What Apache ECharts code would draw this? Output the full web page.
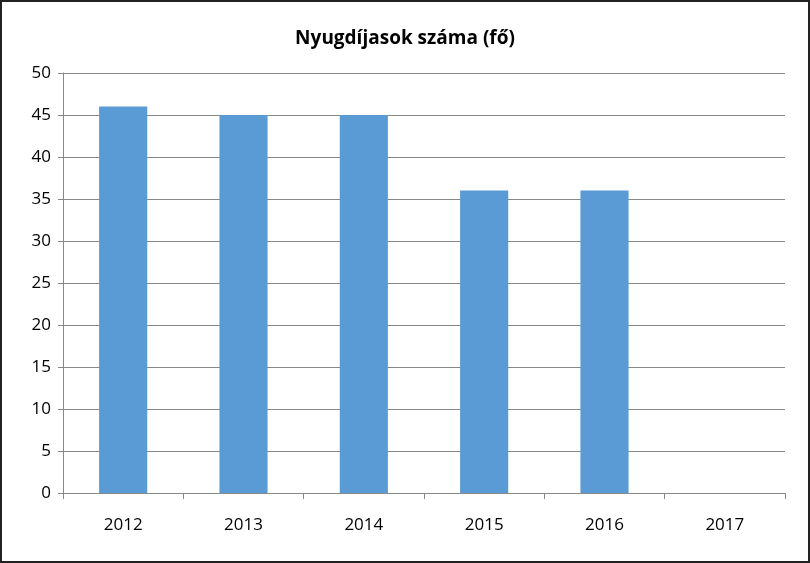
<!DOCTYPE html>
<html><head><meta charset="utf-8">
<script src="https://cdn.jsdelivr.net/npm/echarts@6/dist/echarts.min.js"></script>
<style>
html,body{margin:0;padding:0;background:#fff;}
#wrap{position:absolute;left:0;top:0;width:806px;height:559px;border:2px solid #222;}
#c{width:806px;height:559px;}
</style></head><body>
<div id="wrap"><div id="c"></div></div>
<script>
const categories = ['2012','2013','2014','2015','2016','2017'];
const values = [46, 45, 45, 36, 36, null];
const yTicks = {min: 0, max: 50, interval: 5};
const titleText = 'Nyugdíjasok száma (fő)';

const chart = echarts.init(document.getElementById('c'));
chart.setOption({
  animation: false,
  title: {text: titleText, left: 'center', top: 22,
    textStyle: {fontFamily: 'Open Sans', fontSize: 19, fontWeight: 'bold', color: '#000'}},
  grid: {left: 61, right: 23, top: 71, bottom: 68},
  xAxis: {type: 'category', data: categories,
    axisLine: {lineStyle: {color: '#888', width: 1}},
    axisTick: {show: true, length: 6, alignWithLabel: false, lineStyle: {color: '#888'}},
    axisLabel: {fontFamily: 'Open Sans', fontSize: 17, color: '#000', margin: 24}},
  yAxis: {type: 'value', min: yTicks.min, max: yTicks.max, interval: yTicks.interval,
    axisLine: {show: true, lineStyle: {color: '#888', width: 1}},
    axisTick: {show: true, length: 5, lineStyle: {color: '#888'}},
    splitLine: {lineStyle: {color: '#888', width: 1}},
    axisLabel: {fontFamily: 'Open Sans', fontSize: 17, color: '#000', margin: 12}},
  series: [{type: 'bar', data: values, barCategoryGap: '60%',
    itemStyle: {color: '#5b9bd5'}}]
});
</script></body></html>
